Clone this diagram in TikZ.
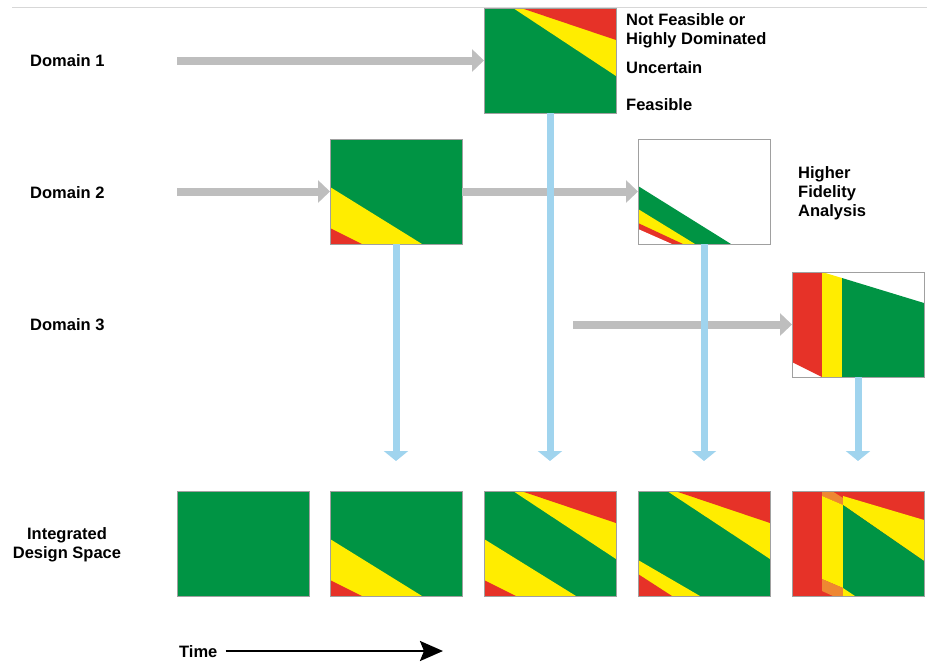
\documentclass[tikz,border=0pt]{standalone}
\usepackage{fontspec}
\setmainfont{Liberation Sans}
\usetikzlibrary{arrows.meta}

\definecolor{feasgreen}{RGB}{0,148,68}
\definecolor{uncyellow}{RGB}{255,237,0}
\definecolor{infred}{RGB}{230,50,40}
\definecolor{mixorange}{RGB}{238,135,50}
\definecolor{flowgray}{RGB}{190,190,190}
\definecolor{flowblue}{RGB}{160,212,238}
\definecolor{edgegray}{RGB}{160,160,160}
\definecolor{rulegray}{RGB}{215,215,215}

% region sets, in box coordinates (132 x 105, y downwards)
\newcommand{\dsTop}{%
  \fill[uncyellow] (29,0) -- (132,0) -- (132,68) -- cycle;
  \fill[infred] (37,0) -- (132,0) -- (132,32) -- cycle;}
\newcommand{\dsLowA}{%
  \fill[uncyellow] (0,48) -- (92,105) -- (0,105) -- cycle;
  \fill[infred] (0,89) -- (32,105) -- (0,105) -- cycle;}
\newcommand{\dsLowB}{%
  \fill[feasgreen] (0,47) -- (93,105) -- (0,105) -- cycle;
  \fill[uncyellow] (0,70) -- (57,105) -- (0,105) -- cycle;
  \fill[infred] (0,84) -- (45,105) -- (0,105) -- cycle;
  \fill[white] (0,90) -- (34,105) -- (0,105) -- cycle;}
% paint regions inside a box node, then outline it
\newcommand{\paintbox}[2]{%
  \begin{scope}
    \clip (#1.north west) rectangle (#1.south east);
    \begin{scope}[shift={(#1.north west)}]#2\end{scope}
  \end{scope}
  \draw[edgegray, line width=0.7pt] (#1.north west) rectangle (#1.south east);}

\tikzset{
  lbl/.style={font=\fontsize{16.5}{19}\selectfont\bfseries, inner sep=0pt},
  space/.style={minimum width=132pt, minimum height=105pt, inner sep=0pt,
    outer sep=0pt, anchor=north west},
  flow/.style={draw=flowgray, line width=8pt, -{Triangle[length=12pt,width=22pt]}},
  merge/.style={draw=flowblue, line width=7pt, -{Triangle[length=10pt,width=24pt]}},
  timearrow/.style={draw=black, line width=2.5pt, -{Stealth[length=23pt,width=20pt,inset=4pt]}},
}

\begin{document}
\begin{tikzpicture}[x=1pt,y=-1pt]
\useasboundingbox (0,0) rectangle (927,670);
\draw[rulegray, line width=0.8pt] (12,7) -- (927,7);

% row labels
\node[lbl, anchor=base west] (l1) at (30,66.5) {Domain 1};
\node[lbl, anchor=base west] (l2) at (30,198.5) {Domain 2};
\node[lbl, anchor=base west] (l3) at (30,330) {Domain 3};
\node[lbl, anchor=base] (l4a) at (67,539) {Integrated};
\node[lbl, anchor=base] (l4b) at (67,558) {Design Space};

% domain analyses
\node[space, fill=feasgreen] (d1) at (484,8) {};
\paintbox{d1}{\dsTop}
\node[space, fill=feasgreen] (d2a) at (330,139) {};
\paintbox{d2a}{\dsLowA}
\node[space, fill=white] (d2b) at (638,139) {};
\paintbox{d2b}{\dsLowB}
\node[space, fill=white] (d3) at (792,272) {};
\paintbox{d3}{%
  \fill[infred] (0,0) -- (30,0) -- (30,105) -- (0,90) -- cycle;
  \fill[uncyellow] (30,0) -- (50,6) -- (50,105) -- (30,105) -- cycle;
  \fill[feasgreen] (50,6) -- (132,31) -- (132,105) -- (50,105) -- cycle;}

% legend
\node[lbl, anchor=base west] (k1) at (626,25) {Not Feasible or};
\node[lbl, anchor=base west] (k2) at (626,44) {Highly Dominated};
\node[lbl, anchor=base west] (k3) at (626,73) {Uncertain};
\node[lbl, anchor=base west] (k4) at (626,110) {Feasible};
\node[lbl, anchor=base west] (h1) at (798,178) {Higher};
\node[lbl, anchor=base west] (h2) at (798,197) {Fidelity};
\node[lbl, anchor=base west] (h3) at (798,216) {Analysis};

% integrated design space over time
\node[space, fill=feasgreen] (i1) at (177,491) {};
\paintbox{i1}{}
\node[space, fill=feasgreen] (i2) at (330,491) {};
\paintbox{i2}{\dsLowA}
\node[space, fill=feasgreen] (i3) at (484,491) {};
\paintbox{i3}{\dsTop\dsLowA}
\node[space, fill=feasgreen] (i4) at (638,491) {};
\paintbox{i4}{\dsTop
  \fill[uncyellow] (0,69) -- (62,105) -- (0,105) -- cycle;
  \fill[infred] (0,83) -- (34,105) -- (0,105) -- cycle;}
\node[space, fill=infred] (i5) at (792,491) {};
\paintbox{i5}{%
  \fill[mixorange] (30,0) -- (40,0) -- (51,7) -- (51,14) -- (30,5) -- cycle;
  \fill[uncyellow] (30,5) -- (51,14) -- (51,97) -- (30,88) -- cycle;
  \fill[mixorange] (30,88) -- (51,97) -- (51,105) -- (41,105) -- (30,100) -- cycle;
  \fill[uncyellow] (51,5) -- (132,29) -- (132,70) -- (51,14) -- cycle;
  \fill[feasgreen] (51,14) -- (132,70) -- (132,105) -- (51,105) -- cycle;
  \fill[uncyellow] (51,97) -- (63,105) -- (51,105) -- cycle;}

% free ends of the connectors
\coordinate (s1) at (177,60.5);
\coordinate (s2) at (177,191.5);
\coordinate (s3) at (573,324.5);
\coordinate (tip) at (0,461);

% analysis flow
\draw[flow] (s1) -- (d1.west);
\draw[flow] (s2) -- (d2a.west);
\draw[flow] (d2a.east) -- (d2b.west);
\draw[flow] (s3) -- (d3.west);

% results merged into the integrated space
\draw[merge] (d2a.south) -- (d2a.south |- tip);
\draw[merge] (d1.south) -- (d1.south |- tip);
\draw[merge] (d2b.south) -- (d2b.south |- tip);
\draw[merge] (d3.south) -- (d3.south |- tip);

% time axis
\node[lbl, anchor=base west] (time) at (179,657) {Time};
\coordinate (tend) at (443,651);
\draw[timearrow] (time.east |- tend) ++(8,0) -- (tend);
\end{tikzpicture}
\end{document}
